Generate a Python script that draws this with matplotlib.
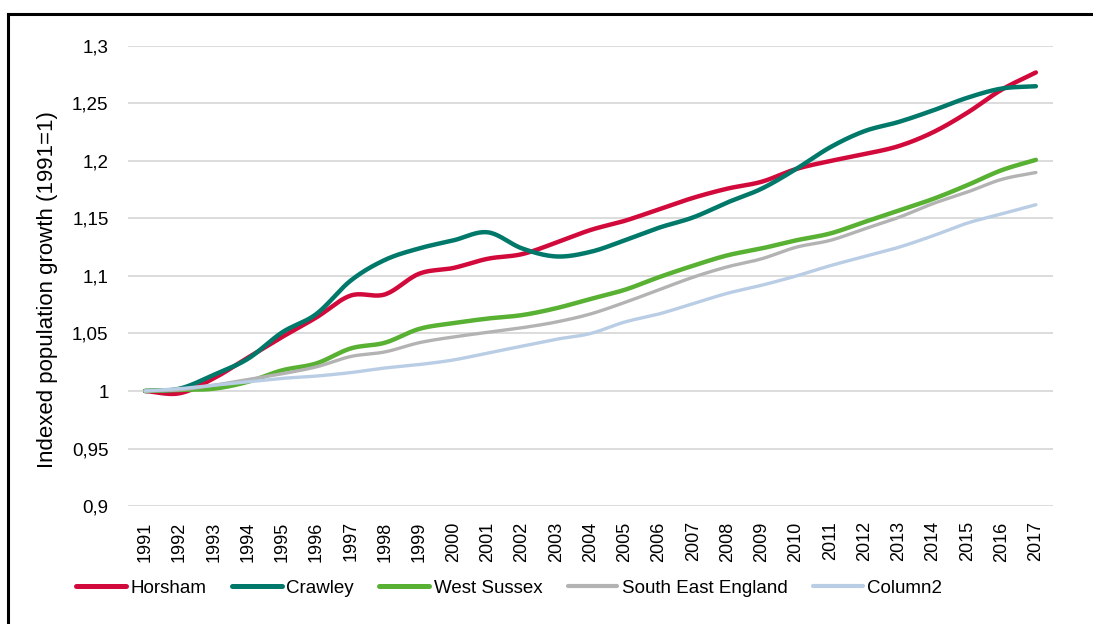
import numpy as np
import matplotlib.pyplot as plt
from matplotlib.lines import Line2D
from matplotlib.ticker import FuncFormatter

years = list(range(1991, 2018))
horsham = [1.000, 0.998, 1.011, 1.029, 1.047, 1.064, 1.083, 1.084, 1.102, 1.107,
           1.115, 1.119, 1.129, 1.140, 1.148, 1.158, 1.168, 1.176, 1.182, 1.193,
           1.200, 1.206, 1.213, 1.225, 1.242, 1.262, 1.277]
crawley = [1.000, 1.002, 1.014, 1.028, 1.051, 1.067, 1.096, 1.114, 1.124, 1.131,
           1.138, 1.124, 1.117, 1.121, 1.131, 1.142, 1.151, 1.164, 1.176, 1.193,
           1.212, 1.226, 1.234, 1.244, 1.255, 1.263, 1.265]
west_sussex = [1.000, 1.001, 1.002, 1.008, 1.018, 1.024, 1.037, 1.042, 1.054, 1.059,
               1.063, 1.066, 1.072, 1.080, 1.088, 1.099, 1.109, 1.118, 1.124, 1.131,
               1.137, 1.147, 1.157, 1.167, 1.179, 1.192, 1.201]
south_east = [1.000, 1.001, 1.005, 1.010, 1.015, 1.021, 1.030, 1.034, 1.042, 1.047,
              1.051, 1.055, 1.060, 1.067, 1.077, 1.088, 1.099, 1.108, 1.115, 1.125,
              1.131, 1.141, 1.151, 1.163, 1.173, 1.184, 1.190]
column2 = [1.000, 1.002, 1.005, 1.008, 1.011, 1.013, 1.016, 1.020, 1.023, 1.027,
           1.033, 1.039, 1.045, 1.050, 1.060, 1.067, 1.076, 1.085, 1.092, 1.100,
           1.109, 1.117, 1.125, 1.135, 1.146, 1.154, 1.162]

series = [
    ("Horsham", horsham, "#D20A3C", 3.2),
    ("Crawley", crawley, "#00796A", 3.2),
    ("West Sussex", west_sussex, "#58B132", 3.2),
    ("South East England", south_east, "#B3B3B3", 2.4),
    ("Column2", column2, "#B9CDE5", 2.4),
]

plt.rcParams['font.family'] = ['Liberation Sans', 'DejaVu Sans']


def smooth(x, y, n=20):
    # catmull-rom style smoothing, like excel's smoothed line
    x = np.asarray(x, float)
    y = np.asarray(y, float)
    px = np.concatenate([[2 * x[0] - x[1]], x, [2 * x[-1] - x[-2]]])
    py = np.concatenate([[2 * y[0] - y[1]], y, [2 * y[-1] - y[-2]]])
    xs, ys = [], []
    t = np.linspace(0, 1, n, endpoint=False)
    for i in range(1, len(px) - 2):
        for arr, out in ((px, xs), (py, ys)):
            p0, p1, p2, p3 = arr[i - 1], arr[i], arr[i + 1], arr[i + 2]
            m1 = (p2 - p0) / 2
            m2 = (p3 - p1) / 2
            h00 = 2 * t**3 - 3 * t**2 + 1
            h10 = t**3 - 2 * t**2 + t
            h01 = -2 * t**3 + 3 * t**2
            h11 = t**3 - t**2
            out.extend(h00 * p1 + h10 * m1 + h01 * p2 + h11 * m2)
    xs.append(x[-1])
    ys.append(y[-1])
    return np.array(xs), np.array(ys)


fig = plt.figure(figsize=(10.93, 6.24), dpi=100)
ax = fig.add_axes([128 / 1093, 1 - 506 / 624, 925 / 1093, 460 / 624])

idx = np.arange(len(years))
for name, vals, color, lw in series:
    sx, sy = smooth(idx, vals)
    ax.plot(sx, sy, color=color, lw=lw, solid_capstyle='round', label=name)

ax.set_xlim(-0.5, len(years) - 0.5)
ax.set_ylim(0.9, 1.3)
ax.set_yticks(np.arange(0.9, 1.3001, 0.05))
ax.yaxis.set_major_formatter(FuncFormatter(lambda v, p: f"{v:.2f}".rstrip('0').rstrip('.').replace('.', ',')))
ax.set_xticks(idx)
ax.set_xticklabels([str(y) for y in years], rotation=90, fontsize=13)
ax.tick_params(axis='y', labelsize=13.5, length=0, pad=14)
ax.tick_params(axis='x', length=0, pad=11)
ax.grid(axis='y', color='#D9D9D9', lw=1.3)
ax.set_axisbelow(True)
for s in ax.spines.values():
    s.set_visible(False)
ax.set_ylabel("Indexed population growth (1991=1)", fontsize=16)
ax.yaxis.set_label_coords(-70 / 925, 0.47)

handles = [Line2D([], [], color=c, lw=3.6 if lw > 3 else 3.0, solid_capstyle='round') for _, _, c, lw in series]
fig.legend(handles, [s[0] for s in series], loc='center left', bbox_to_anchor=(67 / 1093, 1 - 588 / 624),
           ncol=5, frameon=False, fontsize=13.5, borderpad=0, handlelength=2.65, handletextpad=0.25,
           columnspacing=1.35)

# frame lines on the top and left edges
fig.add_artist(Line2D([8 / 1093, 1], [1 - 14 / 624, 1 - 14 / 624], color='black', lw=2.2))
fig.add_artist(Line2D([8 / 1093, 8 / 1093], [0, 1 - 14 / 624], color='black', lw=2.2))

fig.savefig("out.png", dpi=100)
